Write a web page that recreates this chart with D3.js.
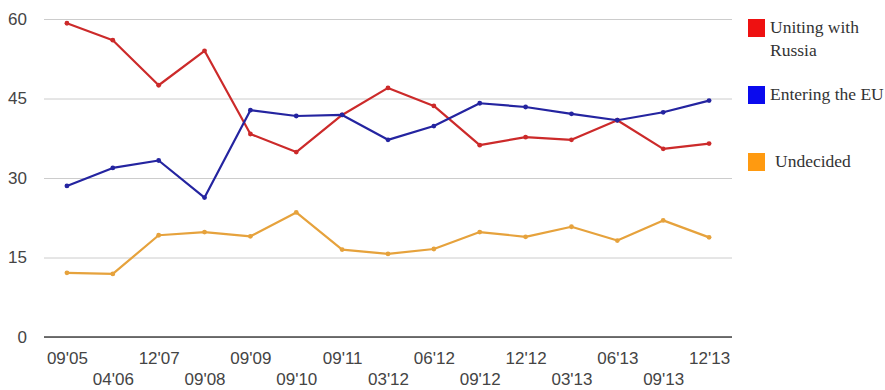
<!DOCTYPE html>
<html>
<head>
<meta charset="utf-8">
<script src="https://cdn.jsdelivr.net/npm/d3@7"></script>
<style>
  body { margin: 0; background: #fff; }
  svg { display: block; }
</style>
</head>
<body>
<div id="chart"></div>
<script>
// Data
const periods = ["09'05", "04'06", "12'07", "09'08", "09'09", "09'10", "09'11", "03'12",
                 "06'12", "09'12", "12'12", "03'13", "06'13", "09'13", "12'13"];
const russia    = [59.2, 56.0, 47.5, 54.0, 38.3, 34.9, 41.9, 47.0, 43.6, 36.2, 37.7, 37.2, 40.9, 35.5, 36.5];
const eu        = [28.5, 31.9, 33.3, 26.3, 42.8, 41.7, 41.9, 37.2, 39.8, 44.1, 43.4, 42.1, 40.9, 42.4, 44.6];
const undecided = [12.1, 11.9, 19.2, 19.8, 19.0, 23.5, 16.5, 15.7, 16.6, 19.8, 18.9, 20.8, 18.2, 22.0, 18.8];
const yTicks = [0, 15, 30, 45, 60];

const series = [
  {name: ["Uniting with", "Russia"], values: russia, line: "#cc2a2a", swatch: "#ee1111"},
  {name: ["Entering the EU"], values: eu, line: "#2424a0", swatch: "#0a0aee"},
  {name: ["Undecided"], values: undecided, line: "#e6a23c", swatch: "#ff9a10"}
];

const W = 885, H = 390;
const plot = {left: 44, right: 732, top: 19, bottom: 337};

const svg = d3.select("#chart").append("svg")
    .attr("width", W)
    .attr("height", H)
    .style("font-family", "'Liberation Sans', Arial, sans-serif");

const x = d3.scalePoint().domain(periods).range([plot.left, plot.right]).padding(0.5);
const y = d3.scaleLinear().domain([0, 60]).range([plot.bottom, plot.top]);

// gridlines + y labels
const yAxis = svg.append("g")
    .attr("transform", `translate(${plot.left},0)`)
    .call(d3.axisLeft(y).tickValues(yTicks).tickSize(-(plot.right - plot.left)).tickPadding(17));
yAxis.select(".domain").remove();
yAxis.selectAll(".tick line").attr("stroke", "#cccccc");
yAxis.selectAll(".tick text")
    .attr("fill", "#444")
    .style("font-size", "17px");

// baseline
svg.append("line")
    .attr("x1", plot.left).attr("x2", plot.right)
    .attr("y1", y(0)).attr("y2", y(0))
    .attr("stroke", "#444").attr("stroke-width", 1.5);

// x labels, staggered in two rows
const xAxis = svg.append("g")
    .attr("transform", `translate(0,${plot.bottom})`)
    .call(d3.axisBottom(x).tickSize(0).tickPadding(0));
xAxis.select(".domain").remove();
xAxis.selectAll(".tick text")
    .attr("fill", "#444")
    .style("font-size", "17px")
    .attr("dy", null)
    .attr("y", (d, i) => i % 2 === 0 ? 27 : 48);

// lines
const line = d3.line().x((d, i) => x(periods[i])).y(d => y(d));
series.forEach(s => {
  svg.append("path")
      .datum(s.values)
      .attr("fill", "none")
      .attr("stroke", s.line)
      .attr("stroke-width", 2.2)
      .attr("stroke-linejoin", "round")
      .attr("d", line);
  svg.append("g").selectAll("circle")
      .data(s.values)
      .join("circle")
      .attr("cx", (d, i) => x(periods[i]))
      .attr("cy", d => y(d))
      .attr("r", 2.4)
      .attr("fill", s.line);
});

// legend
const legendY = [19, 86, 153];
const legend = svg.append("g").style("font-family", "'Liberation Serif', 'Times New Roman', serif");
series.forEach((s, i) => {
  const g = legend.append("g").attr("transform", `translate(748,${legendY[i]})`);
  g.append("rect").attr("width", 17).attr("height", 18).attr("fill", s.swatch);
  g.selectAll("text")
      .data(s.name)
      .join("text")
      .attr("x", i === 2 ? 27 : 22)
      .attr("y", (d, j) => 14 + j * 23)
      .attr("fill", "#333")
      .style("font-size", "17.5px")
      .text(d => d);
});
</script>
</body>
</html>
